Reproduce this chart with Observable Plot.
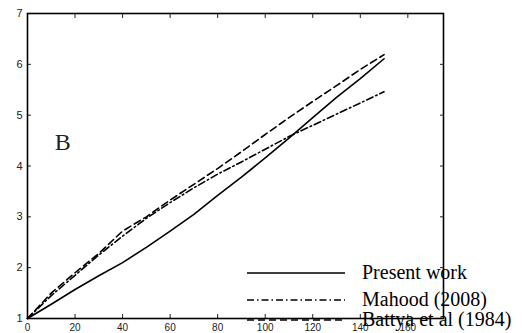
<!DOCTYPE html>
<html><head><meta charset="utf-8">
<script src="https://cdn.jsdelivr.net/npm/d3@7"></script>
<script src="https://cdn.jsdelivr.net/npm/@observablehq/plot@0.6"></script>
<style>
body{margin:0;background:#fff;}
#wrap{position:relative;width:522px;height:333px;overflow:hidden;}
#legend{position:absolute;left:0;top:0;width:522px;height:333px;pointer-events:none;}
</style>
</head><body>
<div id="wrap"></div>
<script>
const xs = [0,10,20,30,40,50,60,70,80,90,100,110,120,130,140,150];
const present = [1,1.28,1.57,1.84,2.1,2.4,2.72,3.05,3.42,3.78,4.16,4.55,4.95,5.35,5.72,6.11];
const mahood = [1,1.45,1.85,2.25,2.62,2.97,3.28,3.57,3.84,4.08,4.33,4.58,4.80,5.02,5.24,5.46];
const battya = [1,1.5,1.9,2.28,2.72,3.0,3.33,3.64,3.95,4.28,4.62,4.95,5.27,5.58,5.9,6.19];
const xTicks = [0,20,40,60,80,100,120,140,160];
const yTicks = [1,2,3,4,5,6,7];
const seriesNames = ["Present work","Mahood (2008)","Battya et al (1984)"];
const dashes = ["none","7,3,1.5,3","7,4"];

const rows = (arr) => xs.map((x,i)=>({x, y: arr[i]}));
const series = [present, mahood, battya];

const plot = Plot.plot({
  width: 522, height: 333,
  marginLeft: 27, marginRight: 79, marginTop: 13, marginBottom: 15,
  x: {domain: [0,175], label: null},
  y: {domain: [1,7], label: null},
  style: {fontFamily: "Arial, 'Liberation Sans', sans-serif", fontSize: "11px", color: "#222"},
  marks: [
    ...series.map((s,i)=>Plot.line(rows(s), {x:"x", y:"y", stroke:"#000", strokeWidth:1.6, strokeDasharray: dashes[i]})),
    Plot.axisX(xTicks, {anchor:"bottom", tickSize:-4, tickPadding:9.5, fontSize:10, tickFormat:"d", label:null}),
    Plot.axisX(xTicks, {anchor:"top", tickSize:-4, text:null, label:null}),
    Plot.axisY(yTicks, {anchor:"left", tickSize:-4, tickPadding:9, fontSize:11, tickFormat:"d", label:null}),
    Plot.axisY(yTicks, {anchor:"right", tickSize:-4, text:null, label:null}),
    Plot.frame({stroke:"#000", strokeWidth:1.6}),
    Plot.text(["B"], {x:[11.5], y:[4.47], fontFamily:"'Liberation Serif', 'Times New Roman', serif", fontSize:24, textAnchor:"start"})
  ]
});
document.getElementById("wrap").appendChild(plot);

// legend overlay
const ns = "http://www.w3.org/2000/svg";
const lg = document.createElementNS(ns,"svg");
lg.setAttribute("id","legend");
lg.setAttribute("width",522); lg.setAttribute("height",333);
const ly = [273, 300, 320];
seriesNames.forEach((name,i)=>{
  const l = document.createElementNS(ns,"line");
  l.setAttribute("x1",247); l.setAttribute("x2",345);
  l.setAttribute("y1",ly[i]); l.setAttribute("y2",ly[i]);
  l.setAttribute("stroke","#000"); l.setAttribute("stroke-width",1.6);
  if (dashes[i] !== "none") l.setAttribute("stroke-dasharray",dashes[i]);
  lg.appendChild(l);
  const t = document.createElementNS(ns,"text");
  t.setAttribute("x",362); t.setAttribute("y",ly[i]+6);
  t.setAttribute("font-family","'Liberation Serif', 'Times New Roman', serif");
  t.setAttribute("font-size",20);
  t.textContent = name;
  lg.appendChild(t);
});
document.getElementById("wrap").appendChild(lg);
</script>
</body></html>
